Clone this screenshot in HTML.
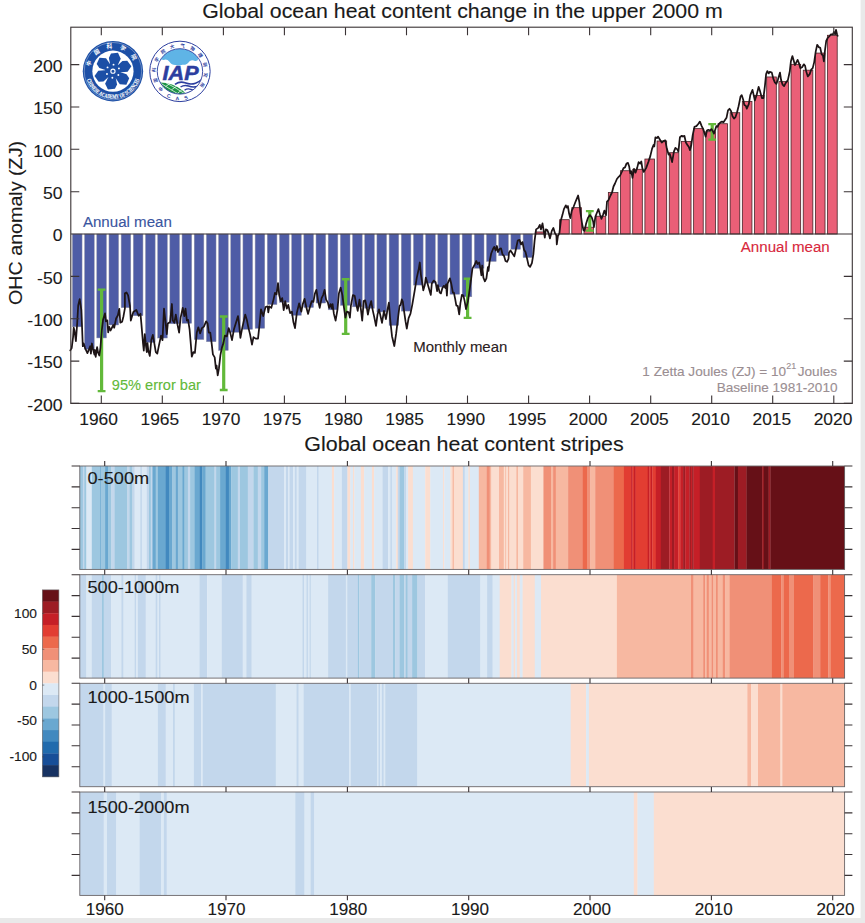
<!DOCTYPE html>
<html lang="en"><head><meta charset="utf-8"><title>Global ocean heat content</title>
<style>
html,body{margin:0;padding:0;background:#fff;}
body{width:865px;height:923px;overflow:hidden;}
svg{display:block;font-family:"Liberation Sans", sans-serif;}
</style></head><body>
<svg width="865" height="923" viewBox="0 0 865 923">
<rect x="0" y="0" width="865" height="923" fill="#fff"/>
<rect x="860.6" y="0" width="4.4" height="923" fill="#e9e9e9"/>
<rect x="0" y="918" width="865" height="5" fill="#e9e9e9"/>
<g id="bars"><rect x="72.44" y="234.00" width="9.6" height="92.83" fill="#4e5ca6" stroke="#8d8fa6" stroke-width="0.5"/><rect x="84.62" y="234.00" width="9.6" height="115.19" fill="#4e5ca6" stroke="#8d8fa6" stroke-width="0.5"/><rect x="96.80" y="234.00" width="9.6" height="103.93" fill="#4e5ca6" stroke="#8d8fa6" stroke-width="0.5"/><rect x="108.98" y="234.00" width="9.6" height="90.97" fill="#4e5ca6" stroke="#8d8fa6" stroke-width="0.5"/><rect x="121.16" y="234.00" width="9.6" height="73.69" fill="#4e5ca6" stroke="#8d8fa6" stroke-width="0.5"/><rect x="133.34" y="234.00" width="9.6" height="81.74" fill="#4e5ca6" stroke="#8d8fa6" stroke-width="0.5"/><rect x="145.52" y="234.00" width="9.6" height="108.42" fill="#4e5ca6" stroke="#8d8fa6" stroke-width="0.5"/><rect x="157.70" y="234.00" width="9.6" height="104.01" fill="#4e5ca6" stroke="#8d8fa6" stroke-width="0.5"/><rect x="169.88" y="234.00" width="9.6" height="89.78" fill="#4e5ca6" stroke="#8d8fa6" stroke-width="0.5"/><rect x="182.06" y="234.00" width="9.6" height="89.27" fill="#4e5ca6" stroke="#8d8fa6" stroke-width="0.5"/><rect x="194.24" y="234.00" width="9.6" height="105.54" fill="#4e5ca6" stroke="#8d8fa6" stroke-width="0.5"/><rect x="206.42" y="234.00" width="9.6" height="107.74" fill="#4e5ca6" stroke="#8d8fa6" stroke-width="0.5"/><rect x="218.60" y="234.00" width="9.6" height="116.38" fill="#4e5ca6" stroke="#8d8fa6" stroke-width="0.5"/><rect x="230.78" y="234.00" width="9.6" height="98.25" fill="#4e5ca6" stroke="#8d8fa6" stroke-width="0.5"/><rect x="242.96" y="234.00" width="9.6" height="95.29" fill="#4e5ca6" stroke="#8d8fa6" stroke-width="0.5"/><rect x="255.14" y="234.00" width="9.6" height="94.27" fill="#4e5ca6" stroke="#8d8fa6" stroke-width="0.5"/><rect x="267.32" y="234.00" width="9.6" height="70.56" fill="#4e5ca6" stroke="#8d8fa6" stroke-width="0.5"/><rect x="279.50" y="234.00" width="9.6" height="68.27" fill="#4e5ca6" stroke="#8d8fa6" stroke-width="0.5"/><rect x="291.68" y="234.00" width="9.6" height="81.31" fill="#4e5ca6" stroke="#8d8fa6" stroke-width="0.5"/><rect x="303.86" y="234.00" width="9.6" height="73.52" fill="#4e5ca6" stroke="#8d8fa6" stroke-width="0.5"/><rect x="316.04" y="234.00" width="9.6" height="69.03" fill="#4e5ca6" stroke="#8d8fa6" stroke-width="0.5"/><rect x="328.22" y="234.00" width="9.6" height="75.81" fill="#4e5ca6" stroke="#8d8fa6" stroke-width="0.5"/><rect x="340.40" y="234.00" width="9.6" height="71.32" fill="#4e5ca6" stroke="#8d8fa6" stroke-width="0.5"/><rect x="352.58" y="234.00" width="9.6" height="72.84" fill="#4e5ca6" stroke="#8d8fa6" stroke-width="0.5"/><rect x="364.76" y="234.00" width="9.6" height="74.28" fill="#4e5ca6" stroke="#8d8fa6" stroke-width="0.5"/><rect x="376.94" y="234.00" width="9.6" height="77.92" fill="#4e5ca6" stroke="#8d8fa6" stroke-width="0.5"/><rect x="389.12" y="234.00" width="9.6" height="91.39" fill="#4e5ca6" stroke="#8d8fa6" stroke-width="0.5"/><rect x="401.30" y="234.00" width="9.6" height="77.08" fill="#4e5ca6" stroke="#8d8fa6" stroke-width="0.5"/><rect x="413.48" y="234.00" width="9.6" height="51.07" fill="#4e5ca6" stroke="#8d8fa6" stroke-width="0.5"/><rect x="425.66" y="234.00" width="9.6" height="49.13" fill="#4e5ca6" stroke="#8d8fa6" stroke-width="0.5"/><rect x="437.84" y="234.00" width="9.6" height="53.02" fill="#4e5ca6" stroke="#8d8fa6" stroke-width="0.5"/><rect x="450.02" y="234.00" width="9.6" height="60.22" fill="#4e5ca6" stroke="#8d8fa6" stroke-width="0.5"/><rect x="462.20" y="234.00" width="9.6" height="62.76" fill="#4e5ca6" stroke="#8d8fa6" stroke-width="0.5"/><rect x="474.38" y="234.00" width="9.6" height="34.22" fill="#4e5ca6" stroke="#8d8fa6" stroke-width="0.5"/><rect x="486.56" y="234.00" width="9.6" height="27.44" fill="#4e5ca6" stroke="#8d8fa6" stroke-width="0.5"/><rect x="498.74" y="234.00" width="9.6" height="21.68" fill="#4e5ca6" stroke="#8d8fa6" stroke-width="0.5"/><rect x="510.92" y="234.00" width="9.6" height="15.25" fill="#4e5ca6" stroke="#8d8fa6" stroke-width="0.5"/><rect x="523.10" y="234.00" width="9.6" height="23.55" fill="#4e5ca6" stroke="#8d8fa6" stroke-width="0.5"/><rect x="535.28" y="231.97" width="9.6" height="2.03" fill="#ea5f77" stroke="#4a2328" stroke-width="0.8"/><rect x="559.64" y="219.69" width="9.6" height="14.31" fill="#ea5f77" stroke="#4a2328" stroke-width="0.8"/><rect x="571.82" y="207.66" width="9.6" height="26.34" fill="#ea5f77" stroke="#4a2328" stroke-width="0.8"/><rect x="584.00" y="227.22" width="9.6" height="6.78" fill="#ea5f77" stroke="#4a2328" stroke-width="0.8"/><rect x="596.18" y="216.21" width="9.6" height="17.79" fill="#ea5f77" stroke="#4a2328" stroke-width="0.8"/><rect x="608.36" y="192.58" width="9.6" height="41.42" fill="#ea5f77" stroke="#4a2328" stroke-width="0.8"/><rect x="620.54" y="170.73" width="9.6" height="63.27" fill="#ea5f77" stroke="#4a2328" stroke-width="0.8"/><rect x="632.72" y="169.29" width="9.6" height="64.71" fill="#ea5f77" stroke="#4a2328" stroke-width="0.8"/><rect x="644.90" y="159.04" width="9.6" height="74.96" fill="#ea5f77" stroke="#4a2328" stroke-width="0.8"/><rect x="657.08" y="141.00" width="9.6" height="93.00" fill="#ea5f77" stroke="#4a2328" stroke-width="0.8"/><rect x="669.26" y="152.69" width="9.6" height="81.31" fill="#ea5f77" stroke="#4a2328" stroke-width="0.8"/><rect x="681.44" y="141.42" width="9.6" height="92.58" fill="#ea5f77" stroke="#4a2328" stroke-width="0.8"/><rect x="693.62" y="128.63" width="9.6" height="105.37" fill="#ea5f77" stroke="#4a2328" stroke-width="0.8"/><rect x="705.80" y="131.68" width="9.6" height="102.32" fill="#ea5f77" stroke="#4a2328" stroke-width="0.8"/><rect x="717.98" y="123.72" width="9.6" height="110.28" fill="#ea5f77" stroke="#4a2328" stroke-width="0.8"/><rect x="730.16" y="112.71" width="9.6" height="121.29" fill="#ea5f77" stroke="#4a2328" stroke-width="0.8"/><rect x="742.34" y="101.44" width="9.6" height="132.56" fill="#ea5f77" stroke="#4a2328" stroke-width="0.8"/><rect x="754.52" y="95.43" width="9.6" height="138.57" fill="#ea5f77" stroke="#4a2328" stroke-width="0.8"/><rect x="766.70" y="76.97" width="9.6" height="157.03" fill="#ea5f77" stroke="#4a2328" stroke-width="0.8"/><rect x="778.88" y="81.62" width="9.6" height="152.38" fill="#ea5f77" stroke="#4a2328" stroke-width="0.8"/><rect x="791.06" y="64.35" width="9.6" height="169.65" fill="#ea5f77" stroke="#4a2328" stroke-width="0.8"/><rect x="803.24" y="70.19" width="9.6" height="163.81" fill="#ea5f77" stroke="#4a2328" stroke-width="0.8"/><rect x="815.42" y="53.08" width="9.6" height="180.92" fill="#ea5f77" stroke="#4a2328" stroke-width="0.8"/><rect x="827.60" y="35.29" width="9.6" height="198.71" fill="#ea5f77" stroke="#4a2328" stroke-width="0.8"/></g>
<path d="M101.6 289.6V391.1" stroke="#62b93a" stroke-width="3.2" fill="none"/><path d="M97.7 289.6h7.8M97.7 391.1h7.8" stroke="#62b93a" stroke-width="2.4" fill="none"/>
<path d="M223.7 316.5V390.0" stroke="#62b93a" stroke-width="3.2" fill="none"/><path d="M219.8 316.5h7.8M219.8 390.0h7.8" stroke="#62b93a" stroke-width="2.4" fill="none"/>
<path d="M345.7 279.3V333.9" stroke="#62b93a" stroke-width="3.2" fill="none"/><path d="M341.8 279.3h7.8M341.8 333.9h7.8" stroke="#62b93a" stroke-width="2.4" fill="none"/>
<path d="M467.6 278.7V317.9" stroke="#62b93a" stroke-width="3.2" fill="none"/><path d="M463.7 278.7h7.8M463.7 317.9h7.8" stroke="#62b93a" stroke-width="2.4" fill="none"/>
<path d="M589.8 211.1V230.6" stroke="#62b93a" stroke-width="3.2" fill="none"/><path d="M585.9 211.1h7.8M585.9 230.6h7.8" stroke="#62b93a" stroke-width="2.4" fill="none"/>
<path d="M712.2 124.1V139.6" stroke="#62b93a" stroke-width="3.2" fill="none"/><path d="M708.3 124.1h7.8M708.3 139.6h7.8" stroke="#62b93a" stroke-width="2.4" fill="none"/>
<path d="M70.8 234.0H852.3" stroke="#3a3335" stroke-width="1.2"/>
<path d="M70.3 350.4 L71.7 348.1 L73.1 337.0 L73.7 327.7 L74.5 330.5 L75.9 341.2 L77.2 323.1 L78.2 305.5 L79.7 299.2 L81.3 309.9 L81.9 323.1 L82.8 346.2 L83.7 343.5 L85.1 348.1 L87.4 353.2 L88.8 349.9 L90.2 346.2 L90.9 353.6 L91.9 343.5 L93.0 349.0 L94.4 354.6 L94.8 349.9 L95.7 356.9 L97.1 347.2 L98.1 352.7 L99.3 355.5 L100.4 348.1 L101.8 330.5 L103.1 319.4 L105.0 313.4 L105.9 321.3 L107.3 320.3 L108.2 332.4 L109.2 326.8 L110.5 330.5 L111.5 328.7 L113.3 325.0 L114.2 327.7 L116.1 318.5 L117.9 315.3 L119.3 308.8 L120.3 322.7 L122.1 321.7 L123.5 316.2 L124.9 308.3 L124.9 293.3 L126.5 292.4 L128.1 295.3 L130.0 306.0 L130.8 320.6 L133.3 311.9 L136.3 309.9 L138.6 315.8 L140.5 313.8 L141.5 325.1 L143.0 343.1 L143.8 350.6 L144.8 334.1 L146.0 346.1 L146.8 352.1 L147.5 343.1 L148.3 350.6 L149.8 355.9 L151.3 340.1 L152.8 334.9 L154.3 343.1 L155.8 352.1 L157.3 353.6 L158.8 346.1 L161.0 335.6 L162.5 340.1 L164.0 308.6 L165.2 319.1 L166.8 334.1 L167.8 323.6 L170.1 322.1 L171.9 304.0 L172.8 320.6 L174.3 322.8 L175.8 314.6 L177.6 325.1 L179.1 332.6 L180.6 317.6 L182.8 307.8 L184.3 316.1 L185.5 308.6 L186.9 320.6 L188.1 319.8 L189.6 329.6 L191.1 347.6 L191.8 356.6 L193.4 352.1 L194.9 352.9 L196.8 332.6 L198.3 327.3 L200.1 333.4 L201.9 328.1 L203.9 326.6 L206.1 321.3 L207.6 323.6 L208.8 332.6 L210.3 332.6 L211.8 344.6 L212.9 354.4 L214.7 357.4 L215.9 368.7 L216.6 365.7 L217.7 375.4 L218.9 368.7 L220.4 355.1 L221.9 347.6 L223.4 343.1 L224.9 335.6 L226.9 336.4 L228.7 328.1 L230.2 332.6 L232.0 340.1 L233.9 329.6 L236.2 322.1 L238.0 316.1 L239.2 325.1 L240.4 337.9 L242.2 328.1 L245.2 314.6 L247.0 320.6 L248.5 328.1 L250.0 334.1 L252.0 344.6 L253.5 337.1 L255.7 338.6 L258.0 338.6 L259.5 325.1 L261.0 309.3 L263.2 316.1 L265.5 307.1 L267.7 306.3 L268.3 312.4 L269.3 306.4 L271.3 307.9 L273.5 299.6 L275.0 292.8 L276.5 294.3 L278.0 283.1 L279.2 295.1 L280.7 301.1 L282.2 298.1 L283.7 310.1 L285.2 301.1 L286.8 308.6 L288.3 304.9 L290.1 313.1 L291.9 311.6 L293.4 322.1 L295.0 328.1 L296.8 313.1 L299.1 303.4 L301.3 311.6 L302.8 304.1 L304.6 298.8 L306.6 308.6 L308.1 313.9 L310.3 305.6 L311.8 301.1 L313.4 301.8 L314.9 293.6 L316.4 289.8 L317.9 299.6 L319.7 307.9 L321.6 298.1 L323.1 295.1 L324.6 289.8 L326.1 299.6 L327.9 302.6 L329.1 307.9 L330.6 304.1 L332.1 308.6 L332.6 304.1 L333.9 313.9 L335.6 320.6 L337.4 310.1 L338.9 293.6 L340.7 287.6 L342.4 295.1 L343.9 307.1 L345.4 317.6 L346.9 311.6 L348.7 312.4 L349.9 317.6 L350.9 305.6 L352.9 295.1 L354.7 295.8 L356.2 304.1 L357.7 310.9 L359.5 299.6 L361.0 310.1 L362.2 320.6 L363.7 301.1 L365.2 300.3 L366.7 307.1 L367.9 314.6 L369.4 307.1 L371.2 301.1 L372.7 310.1 L374.2 316.9 L376.0 325.9 L377.5 314.6 L379.0 309.4 L380.2 314.6 L382.0 322.9 L384.0 310.9 L385.9 319.1 L387.4 310.1 L388.9 302.6 L390.2 319.7 L392.0 336.2 L394.3 346.0 L396.2 333.2 L398.0 318.1 L399.5 306.1 L400.7 304.6 L401.8 299.4 L402.8 301.6 L404.0 310.6 L405.5 321.2 L406.8 328.7 L408.6 318.1 L410.5 313.6 L412.3 304.6 L414.6 291.1 L416.8 277.6 L418.8 268.6 L419.8 262.5 L420.9 274.6 L422.1 282.1 L423.3 290.3 L424.8 285.1 L425.8 277.6 L427.3 282.8 L428.8 288.1 L430.8 294.9 L431.8 283.6 L433.8 280.6 L435.6 282.1 L437.1 291.1 L437.9 285.1 L439.7 292.6 L440.9 293.4 L442.4 288.1 L443.9 285.8 L445.4 288.1 L446.1 284.3 L446.9 295.6 L447.6 283.6 L449.9 278.3 L451.4 284.3 L452.9 292.6 L453.9 292.6 L455.1 298.6 L456.3 305.4 L457.8 306.1 L459.2 314.4 L460.4 303.1 L461.9 294.9 L463.4 295.6 L464.6 300.9 L466.0 309.1 L467.9 301.6 L469.4 291.1 L470.9 280.6 L472.4 268.6 L474.7 264.8 L476.2 261.0 L477.7 264.0 L479.2 262.5 L480.4 268.6 L481.4 275.3 L482.2 265.5 L483.4 277.6 L484.9 281.3 L486.4 278.3 L487.9 267.1 L488.5 270.8 L489.7 261.0 L491.2 253.5 L493.0 249.0 L494.2 246.8 L495.7 250.5 L496.9 246.0 L498.0 252.0 L499.5 249.0 L501.0 248.3 L502.5 254.3 L504.0 255.8 L505.5 261.0 L507.0 261.8 L508.5 258.8 L509.0 252.7 L510.5 250.4 L512.0 252.7 L514.3 256.4 L515.8 249.7 L517.7 240.6 L519.5 239.9 L521.0 244.4 L522.5 242.1 L524.0 249.7 L525.5 251.9 L527.1 258.7 L528.6 265.4 L530.1 266.9 L531.9 263.2 L533.4 254.2 L534.6 240.6 L536.1 229.4 L538.3 227.9 L539.8 224.9 L540.9 229.4 L542.5 223.4 L543.6 230.1 L544.8 237.6 L545.8 229.4 L547.3 230.1 L548.8 233.9 L550.0 238.4 L551.8 230.9 L553.4 227.9 L554.9 233.1 L556.4 235.4 L556.8 244.4 L557.9 236.1 L559.4 233.1 L560.9 220.3 L562.4 215.1 L563.9 209.1 L565.8 205.3 L566.9 207.6 L567.9 206.1 L569.1 213.6 L570.3 218.1 L571.8 210.6 L573.6 206.8 L575.9 200.8 L578.1 195.5 L579.4 202.3 L580.4 212.1 L581.9 222.6 L583.4 230.1 L584.5 230.9 L586.0 224.1 L587.9 218.1 L589.9 215.1 L591.7 217.3 L593.2 221.8 L593.9 227.1 L595.4 216.6 L596.9 212.8 L598.4 209.1 L599.9 214.3 L601.4 218.8 L602.9 215.1 L604.4 210.6 L606.0 215.1 L607.0 201.6 L608.5 200.1 L610.5 195.5 L612.0 192.5 L613.5 186.5 L615.0 183.5 L616.9 179.0 L618.7 176.8 L620.2 175.3 L622.0 171.5 L623.5 168.1 L625.0 167.4 L626.5 163.6 L628.0 162.9 L629.2 166.6 L630.3 173.4 L631.3 171.2 L632.5 177.9 L634.0 168.9 L635.5 172.7 L637.1 168.1 L638.6 162.1 L640.1 163.6 L641.3 161.4 L642.3 168.1 L643.8 171.9 L646.1 168.1 L648.3 162.1 L650.3 156.1 L652.1 148.6 L653.6 144.9 L654.3 146.4 L655.4 137.3 L656.9 138.1 L658.1 136.6 L660.3 140.3 L661.8 142.6 L663.4 141.1 L665.3 140.3 L666.8 148.6 L668.6 154.6 L669.8 153.9 L670.9 157.6 L672.1 162.1 L673.9 151.6 L675.4 147.9 L677.3 149.4 L678.4 151.6 L679.9 137.3 L681.8 135.8 L682.9 136.6 L684.4 135.8 L685.9 142.6 L687.4 144.9 L688.9 147.1 L690.0 150.1 L691.2 145.6 L692.7 135.1 L694.5 126.8 L696.4 126.1 L698.4 123.8 L699.9 121.6 L701.7 126.1 L703.2 129.1 L704.7 133.6 L705.7 136.6 L706.9 130.6 L708.4 129.8 L709.9 130.6 L711.4 129.1 L712.9 131.3 L714.0 133.6 L715.2 129.8 L716.4 126.1 L717.5 126.8 L719.0 123.8 L720.5 122.3 L722.0 121.6 L723.5 122.3 L725.0 120.1 L726.5 117.8 L728.0 110.3 L729.5 108.8 L731.0 111.0 L732.5 116.3 L734.0 118.6 L735.5 117.1 L737.0 112.5 L738.5 106.5 L739.0 104.2 L740.5 96.6 L741.7 95.1 L743.2 99.7 L744.3 104.9 L745.8 105.7 L746.8 108.7 L748.8 104.2 L750.3 95.1 L752.5 89.9 L753.7 95.1 L754.8 100.4 L756.8 94.4 L758.6 86.9 L760.1 91.4 L761.9 98.1 L763.4 98.1 L764.9 86.1 L766.1 74.1 L767.3 71.1 L768.8 73.4 L769.8 71.8 L771.8 72.6 L773.3 78.6 L774.8 82.4 L776.3 83.9 L777.8 80.1 L780.0 72.6 L781.1 80.1 L782.6 84.6 L784.1 86.1 L785.6 83.1 L787.9 80.1 L789.8 71.1 L790.9 61.3 L792.4 56.1 L793.9 61.3 L794.9 65.1 L796.1 62.8 L797.6 59.8 L799.1 63.6 L800.3 68.1 L802.1 67.3 L803.9 64.3 L805.1 65.8 L806.3 71.8 L807.8 76.4 L809.7 74.1 L811.2 69.6 L812.7 68.1 L814.2 62.1 L815.7 51.6 L817.2 44.8 L818.7 47.1 L820.2 47.8 L821.7 54.6 L822.9 55.3 L823.9 61.3 L825.0 50.1 L826.2 41.0 L827.7 38.0 L829.2 36.5 L831.0 34.3 L832.9 34.3 L834.0 32.0 L835.2 34.3 L836.0 29.8 L837.0 34.3 L837.6 35.8" fill="none" stroke="#1d1416" stroke-width="1.75" stroke-linejoin="round" stroke-linecap="round"/>
<rect x="70.8" y="27.2" width="781.5" height="376.2" fill="none" stroke="#3a3335" stroke-width="1.1"/>
<path d="M101.3 27.2v8M101.3 403.4v-8 M162.3 27.2v8M162.3 403.4v-8 M223.4 27.2v8M223.4 403.4v-8 M284.4 27.2v8M284.4 403.4v-8 M345.5 27.2v8M345.5 403.4v-8 M406.5 27.2v8M406.5 403.4v-8 M467.5 27.2v8M467.5 403.4v-8 M528.6 27.2v8M528.6 403.4v-8 M589.6 27.2v8M589.6 403.4v-8 M650.7 27.2v8M650.7 403.4v-8 M711.7 27.2v8M711.7 403.4v-8 M772.7 27.2v8M772.7 403.4v-8 M833.8 27.2v8M833.8 403.4v-8 M70.8 403.4h8.5M852.3 403.4h-8.5 M70.8 361.1h8.5M852.3 361.1h-8.5 M70.8 318.7h8.5M852.3 318.7h-8.5 M70.8 276.4h8.5M852.3 276.4h-8.5 M70.8 191.7h8.5M852.3 191.7h-8.5 M70.8 149.3h8.5M852.3 149.3h-8.5 M70.8 107.0h8.5M852.3 107.0h-8.5 M70.8 64.6h8.5M852.3 64.6h-8.5" stroke="#3a3335" stroke-width="1.1" fill="none"/>
<text transform="translate(98.6 425.0) scale(1.045 1)" font-size="16.65" text-anchor="middle" fill="#1a1a1a" stroke="#1a1a1a" stroke-width="0.12">1960</text>
<text transform="translate(159.8 425.0) scale(1.045 1)" font-size="16.65" text-anchor="middle" fill="#1a1a1a" stroke="#1a1a1a" stroke-width="0.12">1965</text>
<text transform="translate(221.0 425.0) scale(1.045 1)" font-size="16.65" text-anchor="middle" fill="#1a1a1a" stroke="#1a1a1a" stroke-width="0.12">1970</text>
<text transform="translate(282.2 425.0) scale(1.045 1)" font-size="16.65" text-anchor="middle" fill="#1a1a1a" stroke="#1a1a1a" stroke-width="0.12">1975</text>
<text transform="translate(343.4 425.0) scale(1.045 1)" font-size="16.65" text-anchor="middle" fill="#1a1a1a" stroke="#1a1a1a" stroke-width="0.12">1980</text>
<text transform="translate(404.6 425.0) scale(1.045 1)" font-size="16.65" text-anchor="middle" fill="#1a1a1a" stroke="#1a1a1a" stroke-width="0.12">1985</text>
<text transform="translate(465.8 425.0) scale(1.045 1)" font-size="16.65" text-anchor="middle" fill="#1a1a1a" stroke="#1a1a1a" stroke-width="0.12">1990</text>
<text transform="translate(527.0 425.0) scale(1.045 1)" font-size="16.65" text-anchor="middle" fill="#1a1a1a" stroke="#1a1a1a" stroke-width="0.12">1995</text>
<text transform="translate(588.2 425.0) scale(1.045 1)" font-size="16.65" text-anchor="middle" fill="#1a1a1a" stroke="#1a1a1a" stroke-width="0.12">2000</text>
<text transform="translate(649.4 425.0) scale(1.045 1)" font-size="16.65" text-anchor="middle" fill="#1a1a1a" stroke="#1a1a1a" stroke-width="0.12">2005</text>
<text transform="translate(710.6 425.0) scale(1.045 1)" font-size="16.65" text-anchor="middle" fill="#1a1a1a" stroke="#1a1a1a" stroke-width="0.12">2010</text>
<text transform="translate(771.8 425.0) scale(1.045 1)" font-size="16.65" text-anchor="middle" fill="#1a1a1a" stroke="#1a1a1a" stroke-width="0.12">2015</text>
<text transform="translate(833.0 425.0) scale(1.045 1)" font-size="16.65" text-anchor="middle" fill="#1a1a1a" stroke="#1a1a1a" stroke-width="0.12">2020</text>
<text transform="translate(62.5 410.6) scale(1.045 1)" font-size="16.84" text-anchor="end" fill="#1a1a1a" stroke="#1a1a1a" stroke-width="0.12">-200</text>
<text transform="translate(62.5 368.2) scale(1.045 1)" font-size="16.84" text-anchor="end" fill="#1a1a1a" stroke="#1a1a1a" stroke-width="0.12">-150</text>
<text transform="translate(62.5 325.9) scale(1.045 1)" font-size="16.84" text-anchor="end" fill="#1a1a1a" stroke="#1a1a1a" stroke-width="0.12">-100</text>
<text transform="translate(62.5 283.6) scale(1.045 1)" font-size="16.84" text-anchor="end" fill="#1a1a1a" stroke="#1a1a1a" stroke-width="0.12">-50</text>
<text transform="translate(62.5 241.2) scale(1.045 1)" font-size="16.84" text-anchor="end" fill="#1a1a1a" stroke="#1a1a1a" stroke-width="0.12">0</text>
<text transform="translate(62.5 198.8) scale(1.045 1)" font-size="16.84" text-anchor="end" fill="#1a1a1a" stroke="#1a1a1a" stroke-width="0.12">50</text>
<text transform="translate(62.5 156.5) scale(1.045 1)" font-size="16.84" text-anchor="end" fill="#1a1a1a" stroke="#1a1a1a" stroke-width="0.12">100</text>
<text transform="translate(62.5 114.2) scale(1.045 1)" font-size="16.84" text-anchor="end" fill="#1a1a1a" stroke="#1a1a1a" stroke-width="0.12">150</text>
<text transform="translate(62.5 71.8) scale(1.045 1)" font-size="16.84" text-anchor="end" fill="#1a1a1a" stroke="#1a1a1a" stroke-width="0.12">200</text>
<text transform="translate(21.8 223) rotate(-90) scale(1.045 1)" font-size="18.85" text-anchor="middle" fill="#1a1a1a" stroke="#1a1a1a" stroke-width="0.12">OHC anomaly (ZJ)</text>
<text transform="translate(462.5 17.8) scale(1.045 1)" font-size="20.43" text-anchor="middle" fill="#1a1a1a" stroke="#1a1a1a" stroke-width="0.12">Global ocean heat content change in the upper 2000 m</text>
<text transform="translate(82.9 226.8) scale(1.045 1)" font-size="14.45" fill="#3a559f" stroke="#3a559f" stroke-width="0.12">Annual mean</text>
<text transform="translate(829.7 251.7) scale(1.045 1)" font-size="14.45" text-anchor="end" fill="#d8283c" stroke="#d8283c" stroke-width="0.12">Annual mean</text>
<text transform="translate(413.3 352.2) scale(1.045 1)" font-size="14.35" fill="#2a2022" stroke="#2a2022" stroke-width="0.12">Monthly mean</text>
<text transform="translate(111.8 390) scale(1.045 1)" font-size="13.97" fill="#62b93a" stroke="#62b93a" stroke-width="0.12">95% error bar</text>
<text transform="translate(837 375.9) scale(1.045 1)" font-size="13.01" text-anchor="end" fill="#9a8e92" stroke="#9a8e92" stroke-width="0.12">1 Zetta Joules (ZJ) = 10<tspan dy="-6.5" font-size="8.6">21</tspan><tspan dy="6.5" dx="1.5">Joules</tspan></text>
<text transform="translate(837.5 392) scale(1.045 1)" font-size="13.01" text-anchor="end" fill="#9a8e92" stroke="#9a8e92" stroke-width="0.12">Baseline 1981-2010</text>
<g shape-rendering="auto"><rect x="79.8" y="466" width="3.4" height="103.4" fill="#9dc7e0"/><rect x="82.9" y="466" width="1.6" height="103.4" fill="#c3d7ec"/><rect x="84.2" y="466" width="2.5" height="103.4" fill="#9dc7e0"/><rect x="86.4" y="466" width="5.6" height="103.4" fill="#dce9f5"/><rect x="91.8" y="466" width="8.7" height="103.4" fill="#9dc7e0"/><rect x="100.2" y="466" width="1.4" height="103.4" fill="#6aa8d0"/><rect x="101.3" y="466" width="4.1" height="103.4" fill="#9dc7e0"/><rect x="105.1" y="466" width="3.2" height="103.4" fill="#6aa8d0"/><rect x="108.0" y="466" width="3.6" height="103.4" fill="#9dc7e0"/><rect x="111.3" y="466" width="3.6" height="103.4" fill="#c3d7ec"/><rect x="114.6" y="466" width="13.0" height="103.4" fill="#9dc7e0"/><rect x="127.3" y="466" width="2.5" height="103.4" fill="#c3d7ec"/><rect x="129.5" y="466" width="3.2" height="103.4" fill="#9dc7e0"/><rect x="132.4" y="466" width="2.5" height="103.4" fill="#c3d7ec"/><rect x="134.6" y="466" width="5.8" height="103.4" fill="#dce9f5"/><rect x="140.2" y="466" width="2.1" height="103.4" fill="#c3d7ec"/><rect x="141.9" y="466" width="5.2" height="103.4" fill="#dce9f5"/><rect x="146.8" y="466" width="2.5" height="103.4" fill="#c3d7ec"/><rect x="149.0" y="466" width="2.1" height="103.4" fill="#9dc7e0"/><rect x="150.8" y="466" width="1.9" height="103.4" fill="#c3d7ec"/><rect x="152.4" y="466" width="3.6" height="103.4" fill="#6aa8d0"/><rect x="155.7" y="466" width="2.5" height="103.4" fill="#9dc7e0"/><rect x="157.9" y="466" width="8.1" height="103.4" fill="#6aa8d0"/><rect x="165.7" y="466" width="3.6" height="103.4" fill="#4289bf"/><rect x="169.0" y="466" width="3.6" height="103.4" fill="#6aa8d0"/><rect x="172.3" y="466" width="3.6" height="103.4" fill="#9dc7e0"/><rect x="175.7" y="466" width="2.5" height="103.4" fill="#6aa8d0"/><rect x="177.9" y="466" width="4.7" height="103.4" fill="#9dc7e0"/><rect x="182.3" y="466" width="2.5" height="103.4" fill="#6aa8d0"/><rect x="184.5" y="466" width="3.6" height="103.4" fill="#9dc7e0"/><rect x="187.9" y="466" width="2.5" height="103.4" fill="#c3d7ec"/><rect x="190.1" y="466" width="4.7" height="103.4" fill="#9dc7e0"/><rect x="194.5" y="466" width="5.4" height="103.4" fill="#6aa8d0"/><rect x="199.6" y="466" width="3.0" height="103.4" fill="#4289bf"/><rect x="202.3" y="466" width="3.6" height="103.4" fill="#6aa8d0"/><rect x="205.6" y="466" width="9.2" height="103.4" fill="#9dc7e0"/><rect x="214.5" y="466" width="1.9" height="103.4" fill="#c3d7ec"/><rect x="216.1" y="466" width="4.3" height="103.4" fill="#9dc7e0"/><rect x="220.1" y="466" width="5.8" height="103.4" fill="#6aa8d0"/><rect x="225.6" y="466" width="3.6" height="103.4" fill="#4289bf"/><rect x="228.9" y="466" width="2.5" height="103.4" fill="#6aa8d0"/><rect x="231.2" y="466" width="7.0" height="103.4" fill="#9dc7e0"/><rect x="237.8" y="466" width="2.5" height="103.4" fill="#c3d7ec"/><rect x="240.0" y="466" width="8.1" height="103.4" fill="#9dc7e0"/><rect x="247.8" y="466" width="5.8" height="103.4" fill="#c3d7ec"/><rect x="253.4" y="466" width="4.7" height="103.4" fill="#9dc7e0"/><rect x="257.8" y="466" width="3.6" height="103.4" fill="#c3d7ec"/><rect x="261.1" y="466" width="3.4" height="103.4" fill="#9dc7e0"/><rect x="264.2" y="466" width="4.3" height="103.4" fill="#6aa8d0"/><rect x="268.2" y="466" width="16.3" height="103.4" fill="#c3d7ec"/><rect x="284.2" y="466" width="2.1" height="103.4" fill="#dce9f5"/><rect x="286.0" y="466" width="2.5" height="103.4" fill="#c3d7ec"/><rect x="288.2" y="466" width="1.6" height="103.4" fill="#dce9f5"/><rect x="289.5" y="466" width="3.9" height="103.4" fill="#c3d7ec"/><rect x="293.1" y="466" width="2.1" height="103.4" fill="#dce9f5"/><rect x="294.9" y="466" width="2.1" height="103.4" fill="#c3d7ec"/><rect x="296.6" y="466" width="2.3" height="103.4" fill="#dce9f5"/><rect x="298.6" y="466" width="8.1" height="103.4" fill="#c3d7ec"/><rect x="306.4" y="466" width="11.0" height="103.4" fill="#dce9f5"/><rect x="317.0" y="466" width="1.9" height="103.4" fill="#c3d7ec"/><rect x="318.6" y="466" width="13.6" height="103.4" fill="#dce9f5"/><rect x="331.9" y="466" width="2.5" height="103.4" fill="#fbded0"/><rect x="334.1" y="466" width="8.1" height="103.4" fill="#dce9f5"/><rect x="341.9" y="466" width="5.8" height="103.4" fill="#c3d7ec"/><rect x="347.5" y="466" width="3.2" height="103.4" fill="#fbded0"/><rect x="350.3" y="466" width="3.0" height="103.4" fill="#dce9f5"/><rect x="353.0" y="466" width="1.6" height="103.4" fill="#fbded0"/><rect x="354.3" y="466" width="6.7" height="103.4" fill="#dce9f5"/><rect x="360.8" y="466" width="3.6" height="103.4" fill="#fbded0"/><rect x="364.1" y="466" width="8.1" height="103.4" fill="#dce9f5"/><rect x="371.9" y="466" width="2.5" height="103.4" fill="#fbded0"/><rect x="374.1" y="466" width="8.7" height="103.4" fill="#dce9f5"/><rect x="382.5" y="466" width="5.8" height="103.4" fill="#c3d7ec"/><rect x="388.1" y="466" width="2.5" height="103.4" fill="#dce9f5"/><rect x="390.3" y="466" width="1.9" height="103.4" fill="#c3d7ec"/><rect x="391.9" y="466" width="4.7" height="103.4" fill="#dce9f5"/><rect x="396.3" y="466" width="1.9" height="103.4" fill="#fbded0"/><rect x="397.8" y="466" width="2.1" height="103.4" fill="#c3d7ec"/><rect x="399.6" y="466" width="4.7" height="103.4" fill="#9dc7e0"/><rect x="404.1" y="466" width="2.5" height="103.4" fill="#c3d7ec"/><rect x="406.3" y="466" width="2.1" height="103.4" fill="#dce9f5"/><rect x="408.1" y="466" width="5.2" height="103.4" fill="#fbded0"/><rect x="412.9" y="466" width="12.5" height="103.4" fill="#dce9f5"/><rect x="425.2" y="466" width="5.4" height="103.4" fill="#fbded0"/><rect x="430.3" y="466" width="13.1" height="103.4" fill="#dce9f5"/><rect x="443.1" y="466" width="1.4" height="103.4" fill="#fbded0"/><rect x="444.2" y="466" width="6.5" height="103.4" fill="#dce9f5"/><rect x="450.4" y="466" width="2.4" height="103.4" fill="#fbded0"/><rect x="452.5" y="466" width="1.7" height="103.4" fill="#f7b8a1"/><rect x="453.9" y="466" width="9.3" height="103.4" fill="#fbded0"/><rect x="462.9" y="466" width="2.1" height="103.4" fill="#c3d7ec"/><rect x="464.7" y="466" width="4.0" height="103.4" fill="#dce9f5"/><rect x="468.4" y="466" width="1.7" height="103.4" fill="#fbded0"/><rect x="469.8" y="466" width="9.3" height="103.4" fill="#dce9f5"/><rect x="478.8" y="466" width="7.9" height="103.4" fill="#f7b8a1"/><rect x="486.5" y="466" width="3.5" height="103.4" fill="#f09077"/><rect x="489.7" y="466" width="2.0" height="103.4" fill="#f7b8a1"/><rect x="491.3" y="466" width="7.9" height="103.4" fill="#fbded0"/><rect x="499.0" y="466" width="5.2" height="103.4" fill="#f7b8a1"/><rect x="503.8" y="466" width="1.7" height="103.4" fill="#fbded0"/><rect x="505.2" y="466" width="1.4" height="103.4" fill="#f7b8a1"/><rect x="506.3" y="466" width="2.0" height="103.4" fill="#fbded0"/><rect x="508.0" y="466" width="1.7" height="103.4" fill="#f7b8a1"/><rect x="509.4" y="466" width="7.2" height="103.4" fill="#fbded0"/><rect x="516.3" y="466" width="2.0" height="103.4" fill="#f7b8a1"/><rect x="518.0" y="466" width="5.6" height="103.4" fill="#fbded0"/><rect x="523.2" y="466" width="7.9" height="103.4" fill="#f7b8a1"/><rect x="530.9" y="466" width="12.8" height="103.4" fill="#fbded0"/><rect x="543.4" y="466" width="7.9" height="103.4" fill="#f09077"/><rect x="551.0" y="466" width="2.4" height="103.4" fill="#f7b8a1"/><rect x="553.1" y="466" width="3.1" height="103.4" fill="#f09077"/><rect x="555.8" y="466" width="12.5" height="103.4" fill="#f7b8a1"/><rect x="568.1" y="466" width="14.7" height="103.4" fill="#f09077"/><rect x="582.5" y="466" width="4.7" height="103.4" fill="#ec694c"/><rect x="587.0" y="466" width="3.6" height="103.4" fill="#f09077"/><rect x="590.3" y="466" width="5.2" height="103.4" fill="#f7b8a1"/><rect x="595.2" y="466" width="18.7" height="103.4" fill="#f09077"/><rect x="613.6" y="466" width="10.6" height="103.4" fill="#ec694c"/><rect x="623.9" y="466" width="7.5" height="103.4" fill="#e23d32"/><rect x="631.1" y="466" width="1.7" height="103.4" fill="#c51f27"/><rect x="632.5" y="466" width="1.7" height="103.4" fill="#e23d32"/><rect x="633.9" y="466" width="2.0" height="103.4" fill="#c51f27"/><rect x="635.5" y="466" width="12.5" height="103.4" fill="#e23d32"/><rect x="647.7" y="466" width="2.0" height="103.4" fill="#c51f27"/><rect x="649.4" y="466" width="1.7" height="103.4" fill="#e23d32"/><rect x="650.8" y="466" width="1.7" height="103.4" fill="#c51f27"/><rect x="652.2" y="466" width="3.9" height="103.4" fill="#e23d32"/><rect x="655.8" y="466" width="5.4" height="103.4" fill="#c51f27"/><rect x="660.9" y="466" width="8.6" height="103.4" fill="#9d1c24"/><rect x="669.3" y="466" width="3.1" height="103.4" fill="#c51f27"/><rect x="672.0" y="466" width="2.4" height="103.4" fill="#9d1c24"/><rect x="674.1" y="466" width="4.5" height="103.4" fill="#c51f27"/><rect x="678.3" y="466" width="2.4" height="103.4" fill="#e23d32"/><rect x="680.3" y="466" width="3.1" height="103.4" fill="#c51f27"/><rect x="683.1" y="466" width="2.4" height="103.4" fill="#9d1c24"/><rect x="685.2" y="466" width="4.5" height="103.4" fill="#c51f27"/><rect x="689.4" y="466" width="1.7" height="103.4" fill="#9d1c24"/><rect x="690.8" y="466" width="1.7" height="103.4" fill="#c51f27"/><rect x="692.1" y="466" width="1.7" height="103.4" fill="#9d1c24"/><rect x="693.5" y="466" width="6.5" height="103.4" fill="#c51f27"/><rect x="699.8" y="466" width="13.2" height="103.4" fill="#9d1c24"/><rect x="712.7" y="466" width="2.7" height="103.4" fill="#c51f27"/><rect x="715.0" y="466" width="19.7" height="103.4" fill="#9d1c24"/><rect x="734.5" y="466" width="3.8" height="103.4" fill="#661017"/><rect x="737.9" y="466" width="8.9" height="103.4" fill="#9d1c24"/><rect x="746.5" y="466" width="16.1" height="103.4" fill="#661017"/><rect x="762.2" y="466" width="1.8" height="103.4" fill="#9d1c24"/><rect x="763.8" y="466" width="5.1" height="103.4" fill="#661017"/><rect x="768.6" y="466" width="2.1" height="103.4" fill="#9d1c24"/><rect x="770.4" y="466" width="74.5" height="103.4" fill="#661017"/></g>
<rect x="79.8" y="466" width="764.8" height="103.4" fill="none" stroke="#6a6668" stroke-width="0.9"/>
<path d="M79.8 466.0h-8.2 M844.6 466.0h7.8 M79.8 486.9h-8.2 M844.6 486.9h7.8 M79.8 507.7h-8.2 M844.6 507.7h7.8 M79.8 528.5h-8.2 M844.6 528.5h7.8 M79.8 549.4h-8.2 M844.6 549.4h7.8 M104.7 466v-5 M226.0 466v-5 M347.4 466v-5 M468.7 466v-5 M590.0 466v-5 M711.4 466v-5 M832.7 466v-5" stroke="#3a3335" stroke-width="1.1" fill="none"/>
<text transform="translate(87.5 483.6) scale(1.045 1)" font-size="17.42" fill="#1a1a1a" stroke="#1a1a1a" stroke-width="0.12">0-500m</text>
<g shape-rendering="auto"><rect x="79.8" y="574.7" width="6.9" height="103.4" fill="#c3d7ec"/><rect x="86.4" y="574.7" width="5.6" height="103.4" fill="#dce9f5"/><rect x="91.8" y="574.7" width="10.5" height="103.4" fill="#c3d7ec"/><rect x="102.0" y="574.7" width="2.1" height="103.4" fill="#9dc7e0"/><rect x="103.7" y="574.7" width="7.8" height="103.4" fill="#c3d7ec"/><rect x="111.3" y="574.7" width="10.3" height="103.4" fill="#dce9f5"/><rect x="121.3" y="574.7" width="2.5" height="103.4" fill="#c3d7ec"/><rect x="123.5" y="574.7" width="11.4" height="103.4" fill="#dce9f5"/><rect x="134.6" y="574.7" width="1.9" height="103.4" fill="#c3d7ec"/><rect x="136.2" y="574.7" width="2.1" height="103.4" fill="#dce9f5"/><rect x="137.9" y="574.7" width="8.1" height="103.4" fill="#c3d7ec"/><rect x="145.7" y="574.7" width="10.3" height="103.4" fill="#dce9f5"/><rect x="155.7" y="574.7" width="2.1" height="103.4" fill="#c3d7ec"/><rect x="157.5" y="574.7" width="1.9" height="103.4" fill="#dce9f5"/><rect x="159.0" y="574.7" width="1.9" height="103.4" fill="#c3d7ec"/><rect x="160.6" y="574.7" width="39.4" height="103.4" fill="#dce9f5"/><rect x="199.6" y="574.7" width="7.8" height="103.4" fill="#c3d7ec"/><rect x="207.2" y="574.7" width="15.0" height="103.4" fill="#dce9f5"/><rect x="221.8" y="574.7" width="21.2" height="103.4" fill="#c3d7ec"/><rect x="242.7" y="574.7" width="3.9" height="103.4" fill="#dce9f5"/><rect x="246.3" y="574.7" width="5.6" height="103.4" fill="#c3d7ec"/><rect x="251.6" y="574.7" width="51.1" height="103.4" fill="#dce9f5"/><rect x="302.4" y="574.7" width="2.1" height="103.4" fill="#c3d7ec"/><rect x="304.2" y="574.7" width="2.5" height="103.4" fill="#dce9f5"/><rect x="306.4" y="574.7" width="1.9" height="103.4" fill="#c3d7ec"/><rect x="307.9" y="574.7" width="1.9" height="103.4" fill="#dce9f5"/><rect x="309.5" y="574.7" width="1.6" height="103.4" fill="#c3d7ec"/><rect x="310.8" y="574.7" width="17.6" height="103.4" fill="#dce9f5"/><rect x="328.1" y="574.7" width="18.1" height="103.4" fill="#c3d7ec"/><rect x="345.9" y="574.7" width="1.6" height="103.4" fill="#dce9f5"/><rect x="347.2" y="574.7" width="11.0" height="103.4" fill="#c3d7ec"/><rect x="357.9" y="574.7" width="1.6" height="103.4" fill="#9dc7e0"/><rect x="359.2" y="574.7" width="12.3" height="103.4" fill="#c3d7ec"/><rect x="371.2" y="574.7" width="4.3" height="103.4" fill="#9dc7e0"/><rect x="375.2" y="574.7" width="18.1" height="103.4" fill="#c3d7ec"/><rect x="393.0" y="574.7" width="2.5" height="103.4" fill="#9dc7e0"/><rect x="395.2" y="574.7" width="4.7" height="103.4" fill="#c3d7ec"/><rect x="399.6" y="574.7" width="4.7" height="103.4" fill="#9dc7e0"/><rect x="404.1" y="574.7" width="2.1" height="103.4" fill="#c3d7ec"/><rect x="405.8" y="574.7" width="2.1" height="103.4" fill="#9dc7e0"/><rect x="407.6" y="574.7" width="4.7" height="103.4" fill="#c3d7ec"/><rect x="412.1" y="574.7" width="5.6" height="103.4" fill="#9dc7e0"/><rect x="417.4" y="574.7" width="8.1" height="103.4" fill="#c3d7ec"/><rect x="425.2" y="574.7" width="22.9" height="103.4" fill="#dce9f5"/><rect x="447.8" y="574.7" width="32.9" height="103.4" fill="#c3d7ec"/><rect x="480.4" y="574.7" width="7.0" height="103.4" fill="#dce9f5"/><rect x="487.1" y="574.7" width="5.8" height="103.4" fill="#c3d7ec"/><rect x="492.6" y="574.7" width="7.4" height="103.4" fill="#dce9f5"/><rect x="499.7" y="574.7" width="12.1" height="103.4" fill="#fbded0"/><rect x="511.5" y="574.7" width="2.5" height="103.4" fill="#dce9f5"/><rect x="513.7" y="574.7" width="1.9" height="103.4" fill="#fbded0"/><rect x="515.3" y="574.7" width="2.1" height="103.4" fill="#dce9f5"/><rect x="517.0" y="574.7" width="3.0" height="103.4" fill="#fbded0"/><rect x="519.7" y="574.7" width="3.2" height="103.4" fill="#dce9f5"/><rect x="522.6" y="574.7" width="12.5" height="103.4" fill="#fbded0"/><rect x="534.8" y="574.7" width="6.5" height="103.4" fill="#dce9f5"/><rect x="541.0" y="574.7" width="76.2" height="103.4" fill="#fbded0"/><rect x="616.9" y="574.7" width="74.4" height="103.4" fill="#f7b8a1"/><rect x="691.0" y="574.7" width="2.8" height="103.4" fill="#f09077"/><rect x="693.6" y="574.7" width="10.0" height="103.4" fill="#f7b8a1"/><rect x="703.2" y="574.7" width="2.3" height="103.4" fill="#f09077"/><rect x="705.3" y="574.7" width="1.8" height="103.4" fill="#f7b8a1"/><rect x="706.8" y="574.7" width="2.3" height="103.4" fill="#f09077"/><rect x="708.8" y="574.7" width="2.8" height="103.4" fill="#f7b8a1"/><rect x="711.4" y="574.7" width="2.3" height="103.4" fill="#f09077"/><rect x="713.4" y="574.7" width="2.8" height="103.4" fill="#f7b8a1"/><rect x="716.0" y="574.7" width="2.1" height="103.4" fill="#f09077"/><rect x="717.7" y="574.7" width="5.4" height="103.4" fill="#f7b8a1"/><rect x="722.8" y="574.7" width="2.8" height="103.4" fill="#f09077"/><rect x="725.4" y="574.7" width="4.6" height="103.4" fill="#f7b8a1"/><rect x="729.7" y="574.7" width="42.5" height="103.4" fill="#f09077"/><rect x="771.9" y="574.7" width="9.7" height="103.4" fill="#ec694c"/><rect x="781.3" y="574.7" width="2.8" height="103.4" fill="#f09077"/><rect x="783.9" y="574.7" width="5.4" height="103.4" fill="#ec694c"/><rect x="789.0" y="574.7" width="5.4" height="103.4" fill="#f09077"/><rect x="794.0" y="574.7" width="19.4" height="103.4" fill="#ec694c"/><rect x="813.1" y="574.7" width="7.4" height="103.4" fill="#f09077"/><rect x="820.2" y="574.7" width="8.4" height="103.4" fill="#ec694c"/><rect x="828.4" y="574.7" width="2.8" height="103.4" fill="#f09077"/><rect x="830.9" y="574.7" width="14.0" height="103.4" fill="#ec694c"/></g>
<rect x="79.8" y="574.7" width="764.8" height="103.4" fill="none" stroke="#6a6668" stroke-width="0.9"/>
<path d="M79.8 574.7h-8.2 M844.6 574.7h7.8 M79.8 595.6h-8.2 M844.6 595.6h7.8 M79.8 616.4h-8.2 M844.6 616.4h7.8 M79.8 637.2h-8.2 M844.6 637.2h7.8 M79.8 658.1h-8.2 M844.6 658.1h7.8 M104.7 574.7v-5 M226.0 574.7v-5 M347.4 574.7v-5 M468.7 574.7v-5 M590.0 574.7v-5 M711.4 574.7v-5 M832.7 574.7v-5" stroke="#3a3335" stroke-width="1.1" fill="none"/>
<text transform="translate(87.5 593.3) scale(1.045 1)" font-size="17.42" fill="#1a1a1a" stroke="#1a1a1a" stroke-width="0.12">500-1000m</text>
<g shape-rendering="auto"><rect x="79.8" y="683.3" width="24.0" height="103.4" fill="#c3d7ec"/><rect x="103.5" y="683.3" width="1.9" height="103.4" fill="#dce9f5"/><rect x="105.1" y="683.3" width="7.0" height="103.4" fill="#c3d7ec"/><rect x="111.7" y="683.3" width="46.5" height="103.4" fill="#dce9f5"/><rect x="157.9" y="683.3" width="8.1" height="103.4" fill="#c3d7ec"/><rect x="165.7" y="683.3" width="7.6" height="103.4" fill="#dce9f5"/><rect x="173.0" y="683.3" width="2.1" height="103.4" fill="#c3d7ec"/><rect x="174.8" y="683.3" width="19.4" height="103.4" fill="#dce9f5"/><rect x="193.9" y="683.3" width="7.6" height="103.4" fill="#c3d7ec"/><rect x="201.2" y="683.3" width="1.9" height="103.4" fill="#dce9f5"/><rect x="202.8" y="683.3" width="73.3" height="103.4" fill="#c3d7ec"/><rect x="275.8" y="683.3" width="20.9" height="103.4" fill="#dce9f5"/><rect x="296.4" y="683.3" width="2.5" height="103.4" fill="#c3d7ec"/><rect x="298.6" y="683.3" width="5.4" height="103.4" fill="#dce9f5"/><rect x="303.7" y="683.3" width="45.6" height="103.4" fill="#c3d7ec"/><rect x="349.0" y="683.3" width="2.1" height="103.4" fill="#dce9f5"/><rect x="350.8" y="683.3" width="26.5" height="103.4" fill="#c3d7ec"/><rect x="377.0" y="683.3" width="1.9" height="103.4" fill="#dce9f5"/><rect x="378.5" y="683.3" width="1.9" height="103.4" fill="#c3d7ec"/><rect x="380.1" y="683.3" width="2.1" height="103.4" fill="#dce9f5"/><rect x="381.9" y="683.3" width="2.1" height="103.4" fill="#c3d7ec"/><rect x="383.6" y="683.3" width="1.9" height="103.4" fill="#dce9f5"/><rect x="385.2" y="683.3" width="32.5" height="103.4" fill="#c3d7ec"/><rect x="417.4" y="683.3" width="153.6" height="103.4" fill="#dce9f5"/><rect x="570.7" y="683.3" width="15.7" height="103.4" fill="#fbded0"/><rect x="586.1" y="683.3" width="3.1" height="103.4" fill="#dce9f5"/><rect x="588.9" y="683.3" width="158.6" height="103.4" fill="#fbded0"/><rect x="747.3" y="683.3" width="4.0" height="103.4" fill="#f7b8a1"/><rect x="751.0" y="683.3" width="7.3" height="103.4" fill="#fbded0"/><rect x="758.0" y="683.3" width="22.7" height="103.4" fill="#f7b8a1"/><rect x="780.4" y="683.3" width="2.2" height="103.4" fill="#fbded0"/><rect x="782.3" y="683.3" width="62.6" height="103.4" fill="#f7b8a1"/></g>
<rect x="79.8" y="683.3" width="764.8" height="103.4" fill="none" stroke="#6a6668" stroke-width="0.9"/>
<path d="M79.8 683.3h-8.2 M844.6 683.3h7.8 M79.8 704.1h-8.2 M844.6 704.1h7.8 M79.8 725.0h-8.2 M844.6 725.0h7.8 M79.8 745.8h-8.2 M844.6 745.8h7.8 M79.8 766.7h-8.2 M844.6 766.7h7.8 M104.7 683.3v-5 M226.0 683.3v-5 M347.4 683.3v-5 M468.7 683.3v-5 M590.0 683.3v-5 M711.4 683.3v-5 M832.7 683.3v-5" stroke="#3a3335" stroke-width="1.1" fill="none"/>
<text transform="translate(87.5 703.0) scale(1.045 1)" font-size="17.42" fill="#1a1a1a" stroke="#1a1a1a" stroke-width="0.12">1000-1500m</text>
<g shape-rendering="auto"><rect x="79.8" y="792" width="24.2" height="103.4" fill="#c3d7ec"/><rect x="103.7" y="792" width="3.6" height="103.4" fill="#dce9f5"/><rect x="107.0" y="792" width="9.6" height="103.4" fill="#c3d7ec"/><rect x="116.3" y="792" width="23.7" height="103.4" fill="#dce9f5"/><rect x="139.7" y="792" width="21.8" height="103.4" fill="#c3d7ec"/><rect x="161.1" y="792" width="3.1" height="103.4" fill="#dce9f5"/><rect x="163.9" y="792" width="3.1" height="103.4" fill="#c3d7ec"/><rect x="166.7" y="792" width="128.7" height="103.4" fill="#dce9f5"/><rect x="295.2" y="792" width="9.6" height="103.4" fill="#c3d7ec"/><rect x="304.5" y="792" width="6.4" height="103.4" fill="#dce9f5"/><rect x="310.6" y="792" width="4.0" height="103.4" fill="#c3d7ec"/><rect x="314.3" y="792" width="319.7" height="103.4" fill="#dce9f5"/><rect x="633.8" y="792" width="4.0" height="103.4" fill="#fbded0"/><rect x="637.5" y="792" width="16.6" height="103.4" fill="#dce9f5"/><rect x="653.8" y="792" width="191.1" height="103.4" fill="#fbded0"/></g>
<rect x="79.8" y="792" width="764.8" height="103.4" fill="none" stroke="#6a6668" stroke-width="0.9"/>
<path d="M79.8 792.0h-8.2 M844.6 792.0h7.8 M79.8 812.9h-8.2 M844.6 812.9h7.8 M79.8 833.7h-8.2 M844.6 833.7h7.8 M79.8 854.5h-8.2 M844.6 854.5h7.8 M79.8 875.4h-8.2 M844.6 875.4h7.8 M104.7 792v-5 M104.7 895.4v4.8 M226.0 792v-5 M226.0 895.4v4.8 M347.4 792v-5 M347.4 895.4v4.8 M468.7 792v-5 M468.7 895.4v4.8 M590.0 792v-5 M590.0 895.4v4.8 M711.4 792v-5 M711.4 895.4v4.8 M832.7 792v-5 M832.7 895.4v4.8" stroke="#3a3335" stroke-width="1.1" fill="none"/>
<text transform="translate(87.5 812.7) scale(1.045 1)" font-size="17.42" fill="#1a1a1a" stroke="#1a1a1a" stroke-width="0.12">1500-2000m</text>
<text transform="translate(104.7 915) scale(1.045 1)" font-size="16.36" text-anchor="middle" fill="#1a1a1a" stroke="#1a1a1a" stroke-width="0.12">1960</text>
<text transform="translate(226.5 915) scale(1.045 1)" font-size="16.36" text-anchor="middle" fill="#1a1a1a" stroke="#1a1a1a" stroke-width="0.12">1970</text>
<text transform="translate(348.3 915) scale(1.045 1)" font-size="16.36" text-anchor="middle" fill="#1a1a1a" stroke="#1a1a1a" stroke-width="0.12">1980</text>
<text transform="translate(470.1 915) scale(1.045 1)" font-size="16.36" text-anchor="middle" fill="#1a1a1a" stroke="#1a1a1a" stroke-width="0.12">1990</text>
<text transform="translate(591.9 915) scale(1.045 1)" font-size="16.36" text-anchor="middle" fill="#1a1a1a" stroke="#1a1a1a" stroke-width="0.12">2000</text>
<text transform="translate(713.7 915) scale(1.045 1)" font-size="16.36" text-anchor="middle" fill="#1a1a1a" stroke="#1a1a1a" stroke-width="0.12">2010</text>
<text transform="translate(835.5 915) scale(1.045 1)" font-size="16.36" text-anchor="middle" fill="#1a1a1a" stroke="#1a1a1a" stroke-width="0.12">2020</text>
<text transform="translate(464 450.9) scale(1.045 1)" font-size="20.53" text-anchor="middle" fill="#1a1a1a" stroke="#1a1a1a" stroke-width="0.12">Global ocean heat content stripes</text>
<rect x="42.3" y="589.90" width="16.6" height="11.98" fill="#661017"/>
<rect x="42.3" y="601.58" width="16.6" height="11.98" fill="#9d1c24"/>
<rect x="42.3" y="613.26" width="16.6" height="11.98" fill="#c51f27"/>
<rect x="42.3" y="624.94" width="16.6" height="11.98" fill="#e23d32"/>
<rect x="42.3" y="636.62" width="16.6" height="11.98" fill="#ec694c"/>
<rect x="42.3" y="648.30" width="16.6" height="11.98" fill="#f09077"/>
<rect x="42.3" y="659.98" width="16.6" height="11.98" fill="#f7b8a1"/>
<rect x="42.3" y="671.66" width="16.6" height="11.98" fill="#fbded0"/>
<rect x="42.3" y="683.34" width="16.6" height="11.98" fill="#dce9f5"/>
<rect x="42.3" y="695.02" width="16.6" height="11.98" fill="#c3d7ec"/>
<rect x="42.3" y="706.70" width="16.6" height="11.98" fill="#9dc7e0"/>
<rect x="42.3" y="718.38" width="16.6" height="11.98" fill="#6aa8d0"/>
<rect x="42.3" y="730.06" width="16.6" height="11.98" fill="#4289bf"/>
<rect x="42.3" y="741.74" width="16.6" height="11.98" fill="#216bad"/>
<rect x="42.3" y="753.42" width="16.6" height="11.98" fill="#174e98"/>
<rect x="42.3" y="765.10" width="16.6" height="11.98" fill="#173262"/>
<rect x="42.3" y="589.9" width="16.6" height="186.9" fill="none" stroke="#6a6668" stroke-width="0.6"/>
<text transform="translate(37.0 617.9) scale(1.045 1)" font-size="13.21" text-anchor="end" fill="#1a1a1a" stroke="#1a1a1a" stroke-width="0.12">100</text>
<path d="M42.3 613.5h2" stroke="#444" stroke-width="0.6"/>
<text transform="translate(37.0 653.7) scale(1.045 1)" font-size="13.21" text-anchor="end" fill="#1a1a1a" stroke="#1a1a1a" stroke-width="0.12">50</text>
<path d="M42.3 649.3h2" stroke="#444" stroke-width="0.6"/>
<text transform="translate(37.0 689.5) scale(1.045 1)" font-size="13.21" text-anchor="end" fill="#1a1a1a" stroke="#1a1a1a" stroke-width="0.12">0</text>
<path d="M42.3 685.1h2" stroke="#444" stroke-width="0.6"/>
<text transform="translate(37.0 725.3) scale(1.045 1)" font-size="13.21" text-anchor="end" fill="#1a1a1a" stroke="#1a1a1a" stroke-width="0.12">-50</text>
<path d="M42.3 720.9h2" stroke="#444" stroke-width="0.6"/>
<text transform="translate(37.0 761.1) scale(1.045 1)" font-size="13.21" text-anchor="end" fill="#1a1a1a" stroke="#1a1a1a" stroke-width="0.12">-100</text>
<path d="M42.3 756.8h2" stroke="#444" stroke-width="0.6"/>
<g transform="translate(112.95 71.2)"><circle r="30.2" fill="#1c4fa6"/><circle r="28.7" fill="none" stroke="#fff" stroke-width="0.45" opacity="0.75"/><circle r="20.6" fill="#fff"/><path d="M0 0 L-4.1 -7.4 L-5.9 -12.6 L-4.4 -17.2 L2.4 -18.9 L6.0 -13.4 L4.1 -7.4 Z" fill="#1c4fa6" transform="rotate(8)"/><path d="M0 0 L-4.1 -7.4 L-5.9 -12.6 L-4.4 -17.2 L2.4 -18.9 L6.0 -13.4 L4.1 -7.4 Z" fill="#1c4fa6" transform="rotate(68)"/><path d="M0 0 L-4.1 -7.4 L-5.9 -12.6 L-4.4 -17.2 L2.4 -18.9 L6.0 -13.4 L4.1 -7.4 Z" fill="#1c4fa6" transform="rotate(128)"/><path d="M0 0 L-4.1 -7.4 L-5.9 -12.6 L-4.4 -17.2 L2.4 -18.9 L6.0 -13.4 L4.1 -7.4 Z" fill="#1c4fa6" transform="rotate(188)"/><path d="M0 0 L-4.1 -7.4 L-5.9 -12.6 L-4.4 -17.2 L2.4 -18.9 L6.0 -13.4 L4.1 -7.4 Z" fill="#1c4fa6" transform="rotate(248)"/><path d="M0 0 L-4.1 -7.4 L-5.9 -12.6 L-4.4 -17.2 L2.4 -18.9 L6.0 -13.4 L4.1 -7.4 Z" fill="#1c4fa6" transform="rotate(308)"/><circle r="8" fill="#1c4fa6"/><circle cx="0.58" cy="-6.57" r="0.95" fill="#fff"/><circle cx="5.98" cy="-2.79" r="0.95" fill="#fff"/><circle cx="5.41" cy="3.79" r="0.95" fill="#fff"/><circle cx="-0.58" cy="6.57" r="0.95" fill="#fff"/><circle cx="-5.98" cy="2.79" r="0.95" fill="#fff"/><circle cx="-5.41" cy="-3.79" r="0.95" fill="#fff"/><circle r="2.1" fill="none" stroke="#fff" stroke-width="1.1"/><path id="casTop" d="M-22.77 -2.39A22.9 22.9 0 0 1 22.77 -2.39" fill="none"/><text font-family="'Liberation Sans', 'Noto Sans CJK SC', sans-serif" font-size="5.7" font-weight="bold" fill="#fff" letter-spacing="7.0" text-anchor="middle"><textPath href="#casTop" startOffset="50%">中国科学院</textPath></text><path id="casBot" d="M-27.23 3.83A27.5 27.5 0 0 0 27.23 3.83" fill="none"/><text font-family="'Liberation Serif', serif" font-size="6" font-weight="bold" fill="#fff" stroke="#fff" stroke-width="0.15" text-anchor="middle" textLength="69" lengthAdjust="spacingAndGlyphs"><textPath href="#casBot" startOffset="50%">CHINESE ACADEMY OF SCIENCES</textPath></text></g><g transform="translate(179.95 71.4)"><circle r="30.2" fill="#fff" stroke="#2c3e9f" stroke-width="1"/><clipPath id="iapClip"><circle r="22.6"/></clipPath><g clip-path="url(#iapClip)"><path d="M-23 -10 L-23 -24 L23 -24 L23 -14 L18.5 -12.6 Q17.6 -10 15 -10.4 Q12.4 -12.2 9.3 -10 Q7 -6.2 2.6 -6.6 Q-1.5 -5.2 -4 -6.4 Q-8 -6 -10.5 -9.6 Q-13 -12.8 -16.4 -11.4 Q-18.5 -12.6 -20.4 -11.2 Z" fill="#5fb4e6"/><path d="M-24 11.4 Q-16 10.4 -8 13.2 Q-1 15.8 3 19.4 Q5.4 21.6 7.4 25 L-24 25 Z" fill="#1c9445"/><path d="M-19 12 Q-10 17.6 2 24.8 M-14.4 11.2 Q-5 15.8 5.2 22.6 M-8.4 18.4 L-3.2 14.6 M-14.4 15.2 L-10.2 12.2 M-2.6 22 L1.8 18.6" stroke="#fff" stroke-width="0.7" fill="none"/><path d="M-5 13 Q0 9.6 5 11.4 Q10.6 13.6 15.6 11.8 Q19.4 10.4 22.4 7.6" stroke="#2c3e9f" stroke-width="1.6" fill="none"/><path d="M0.6 15.6 Q4.4 13 8.6 14.6 Q13.6 16.6 18 14.8 Q20.4 13.8 22.4 11.8" stroke="#2c3e9f" stroke-width="1.5" fill="none"/><path d="M4.6 18.8 Q7.6 16.6 11 18 Q15 19.6 19.4 17.2" stroke="#2c3e9f" stroke-width="1.4" fill="none"/><path d="M7.6 21.6 Q10.4 19.8 13.4 20.8 Q15.2 21.4 17 20.6" stroke="#2c3e9f" stroke-width="1.2" fill="none"/></g><circle r="22.7" fill="none" stroke="#2c3e9f" stroke-width="0.9"/><text transform="translate(0.6 8.4) scale(1.1 1)" font-size="19.6" font-weight="bold" font-style="italic" text-anchor="middle" fill="#2c3e9f" stroke="#2c3e9f" stroke-width="0.5">IAP</text><path id="iapTop" d="M-19.07 14.90A24.2 24.2 0 1 1 19.07 14.90" fill="none"/><text font-family="'Liberation Sans', 'Noto Sans CJK SC', sans-serif" font-size="4.5" font-weight="bold" fill="#2c3e9f" letter-spacing="5.2" text-anchor="middle"><textPath href="#iapTop" startOffset="50%">中国科学院大气物理研究所</textPath></text><path id="iapBot" d="M-18.45 21.99A28.7 28.7 0 0 0 18.45 21.99" fill="none"/><text font-size="5.2" font-weight="bold" fill="#2c3e9f" text-anchor="middle" letter-spacing="5.6"><textPath href="#iapBot" startOffset="50%">CAS</textPath></text></g>
</svg>
</body></html>
